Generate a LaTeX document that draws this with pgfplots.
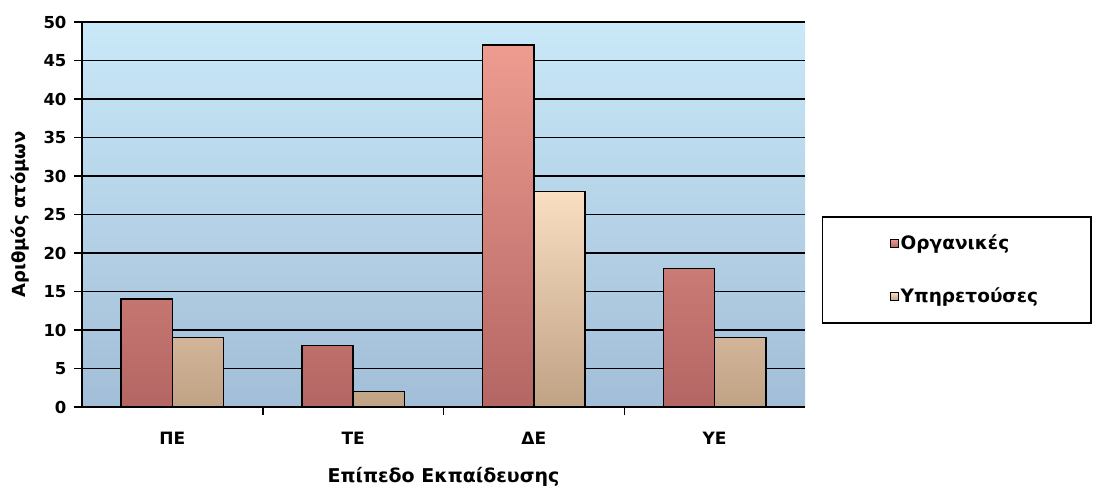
\documentclass[border=0pt]{standalone}
\usepackage{pgfplots}
\pgfplotsset{compat=1.18}
\usepackage{fontspec}
\setmainfont{DejaVu Sans}

\definecolor{bgtop}{HTML}{C9E8F8}
\definecolor{bgbot}{HTML}{A2BED8}
\definecolor{orgtop}{HTML}{EE9C90}
\definecolor{orgbot}{HTML}{B46664}
\definecolor{ypitop}{HTML}{F9DEC2}
\definecolor{ypibot}{HTML}{C0A285}

\begin{document}
\begin{tikzpicture}
\useasboundingbox (-82pt,-82pt) rectangle (1020pt,407pt);
\begin{axis}[
    scale only axis,
    width=723pt, height=385pt,
    axis background/.style={top color=bgtop, bottom color=bgbot},
    axis lines=left,
    axis line style={-, line width=1.5pt, black},
    xmin=-0.5, xmax=3.5,
    ymin=0, ymax=50,
    ytick={0,5,...,50},
    ymajorgrids,
    major grid style={line width=1.5pt, black},
    xtick={0,1,2,3},
    xticklabels={ΠΕ, ΤΕ, ΔΕ, ΥΕ},
    minor xtick={0.5,1.5,2.5},
    major x tick style={draw=none},
    minor x tick style={line width=1.5pt, black},
    major y tick style={line width=1.5pt, black},
    tick align=outside,
    major tick length=8pt,
    minor tick length=8pt,
    /pgf/number format/assume math mode=true,
    yticklabel style={font=\bfseries\fontsize{16.5}{19}\selectfont, xshift=-4pt},
    xticklabel style={font=\bfseries\fontsize{17}{20}\selectfont, yshift=-14pt},
    xlabel={Επίπεδο Εκπαίδευσης},
    ylabel={Αριθμός ατόμων},
    xlabel style={font=\bfseries\fontsize{19}{22}\selectfont,
        at={(axis description cs:0.5,-0.182)}, anchor=center},
    ylabel style={font=\bfseries\fontsize{18}{21}\selectfont,
        at={(axis description cs:-0.0858,0.5)}, anchor=center},
    ybar=0pt,
    bar width=0.283,
    legend style={at={(axis description cs:1.0235,0.496)}, anchor=north west,
        draw=black, line width=1.5pt, fill=white,
        inner xsep=0pt, inner ysep=0pt, row sep=0pt, column sep=0pt,
        font=\bfseries\fontsize{18.5}{21}\selectfont,
        cells={anchor=west, inner xsep=3pt, inner ysep=0pt}},
    legend image code/.code={%
        \pgfpathrectangle{\pgfpoint{-68pt}{-26.5pt}}{\pgfpoint{76pt}{53pt}}%
        \pgfusepath{use as bounding box}%
        \draw[#1, line width=1pt, draw=black] (0pt,-4pt) rectangle (8pt,4pt);},
]
\addplot[draw=black, line width=1.5pt, top color=orgtop, bottom color=orgbot]
    coordinates {(0,14) (1,8) (2,47) (3,18)};
\addplot[draw=black, line width=1.5pt, top color=ypitop, bottom color=ypibot]
    coordinates {(0,9) (1,2) (2,28) (3,9)};
\legend{\makebox[188pt][l]{Οργανικές}, \makebox[188pt][l]{Υπηρετούσες}}
\end{axis}
\end{tikzpicture}
\end{document}
